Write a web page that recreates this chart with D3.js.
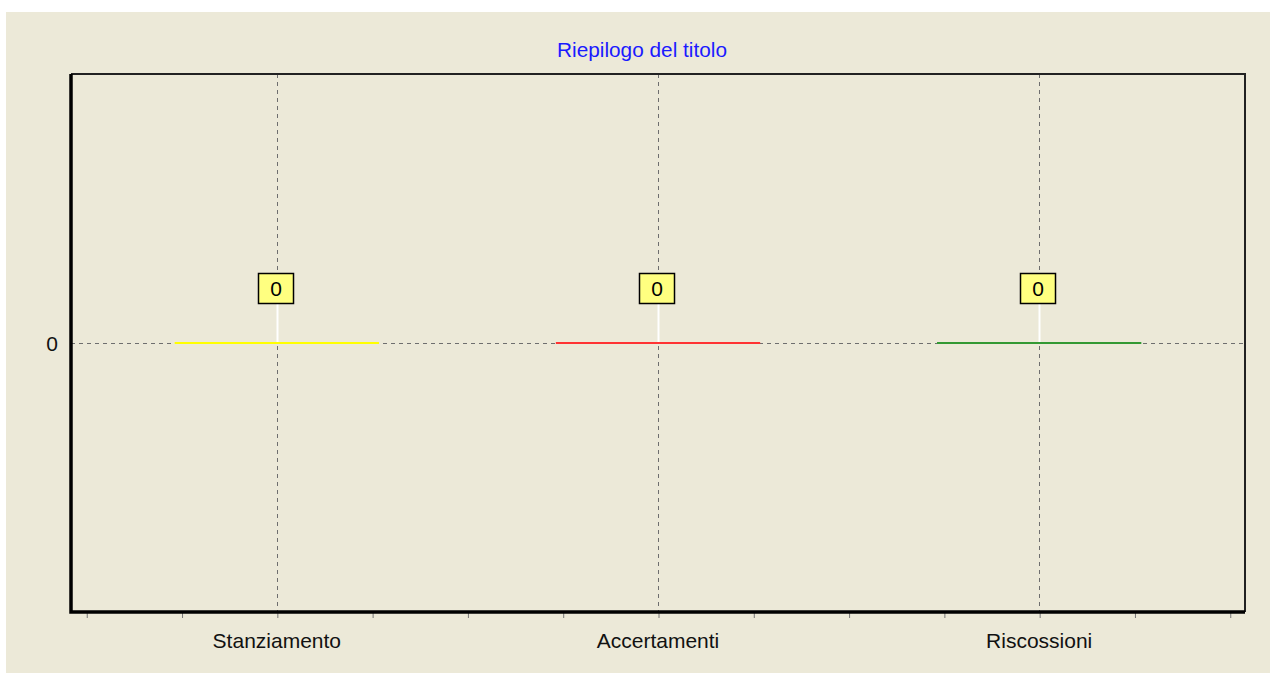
<!DOCTYPE html>
<html>
<head>
<meta charset="utf-8">
<script src="https://cdn.jsdelivr.net/npm/d3@7"></script>
<style>
  body { margin: 0; background: #fff; }
  svg { display: block; }
  text { font-family: "Liberation Sans", Arial, sans-serif; }
</style>
</head>
<body>
<svg></svg>
<script>
const WIDTH = 1270;
const HEIGHT = 673;

const TITLE = "Riepilogo del titolo";
const categories = ["Stanziamento", "Accertamenti", "Riscossioni"];
const values = [0, 0, 0];
const barColors = ["#ffff00", "#ff3333", "#339933"];
const yTicks = [0];

const PLOT = { left: 71, right: 1245, top: 74, bottom: 612 };
const HALF_BAR = 0.268;

const $svg = d3.select("svg").attr("width", WIDTH).attr("height", HEIGHT);

// beige panel
$svg.append("rect")
  .attr("x", 6).attr("y", 12)
  .attr("width", WIDTH - 6).attr("height", HEIGHT - 12)
  .attr("fill", "#ece9d8");

// categories sit at 1, 2, 3
const xScale = d3.scaleLinear()
  .domain([0.46, 3.54])
  .range([PLOT.left, PLOT.right]);

const yScale = d3.scaleLinear()
  .domain([-1, 1])
  .range([PLOT.bottom, PLOT.top]);

// title
$svg.append("text")
  .attr("x", 642).attr("y", 57)
  .attr("text-anchor", "middle")
  .attr("font-size", 20.8)
  .attr("fill", "#1a1aff")
  .text(TITLE);

// grid
const grid = $svg.append("g")
  .attr("stroke", "#6e6e6e")
  .attr("stroke-width", 1)
  .attr("stroke-dasharray", "4,4");

grid.selectAll(".vgrid")
  .data(categories)
  .enter()
  .append("line")
  .attr("x1", (d, i) => Math.round(xScale(i + 1)) + 0.5)
  .attr("x2", (d, i) => Math.round(xScale(i + 1)) + 0.5)
  .attr("y1", PLOT.top)
  .attr("y2", PLOT.bottom);

grid.selectAll(".hgrid")
  .data(yTicks)
  .enter()
  .append("line")
  .attr("x1", PLOT.left)
  .attr("x2", PLOT.right)
  .attr("y1", d => Math.round(yScale(d)) + 0.5)
  .attr("y2", d => Math.round(yScale(d)) + 0.5);

// bars (flat, value 0)
$svg.selectAll(".bar")
  .data(values)
  .enter()
  .append("line")
  .attr("x1", (d, i) => xScale(i + 1 - HALF_BAR))
  .attr("x2", (d, i) => xScale(i + 1 + HALF_BAR))
  .attr("y1", d => Math.round(yScale(d)))
  .attr("y2", d => Math.round(yScale(d)))
  .attr("stroke", (d, i) => barColors[i])
  .attr("stroke-width", 2);

// value labels
const labels = $svg.selectAll(".vlabel")
  .data(values)
  .enter()
  .append("g")
  .attr("transform", (d, i) => `translate(${Math.round(xScale(i + 1))},${Math.round(yScale(d))})`);

labels.append("line")
  .attr("x1", 0.5).attr("x2", 0.5)
  .attr("y1", -40).attr("y2", -1)
  .attr("stroke", "#ffffff")
  .attr("stroke-width", 2);

labels.append("rect")
  .attr("x", -18.5).attr("y", -69.5)
  .attr("width", 35).attr("height", 30)
  .attr("fill", "#ffff80")
  .attr("stroke", "#000")
  .attr("stroke-width", 1.5);

labels.append("text")
  .attr("x", -1).attr("y", -47)
  .attr("text-anchor", "middle")
  .attr("font-size", 21)
  .attr("fill", "#000")
  .text(d => d);

// x axis ticks
const xAxis = d3.axisBottom(xScale)
  .tickValues(d3.range(0.5, 3.51, 0.25))
  .tickSize(6)
  .tickFormat("");

const gx = $svg.append("g")
  .attr("transform", `translate(0.5,${PLOT.bottom})`)
  .call(xAxis);
gx.select(".domain").remove();
gx.selectAll(".tick line").attr("stroke", "#777");

// category labels
$svg.selectAll(".cat")
  .data(categories)
  .enter()
  .append("text")
  .attr("x", (d, i) => xScale(i + 1))
  .attr("y", 648)
  .attr("text-anchor", "middle")
  .attr("font-size", 21)
  .attr("fill", "#111")
  .text(d => d);

// y tick labels
$svg.selectAll(".ylab")
  .data(yTicks)
  .enter()
  .append("text")
  .attr("x", 58)
  .attr("y", d => yScale(d) + 8)
  .attr("text-anchor", "end")
  .attr("font-size", 21)
  .attr("fill", "#111")
  .text(d => d);

// frame: thin top/right, thick left/bottom
$svg.append("path")
  .attr("d", `M${PLOT.left},${PLOT.top}H${PLOT.right}V${PLOT.bottom}`)
  .attr("fill", "none")
  .attr("stroke", "#222")
  .attr("stroke-width", 2);

$svg.append("path")
  .attr("d", `M${PLOT.left},${PLOT.top}V${PLOT.bottom}H${PLOT.right}`)
  .attr("fill", "none")
  .attr("stroke", "#000")
  .attr("stroke-width", 3.5);
</script>
</body>
</html>
